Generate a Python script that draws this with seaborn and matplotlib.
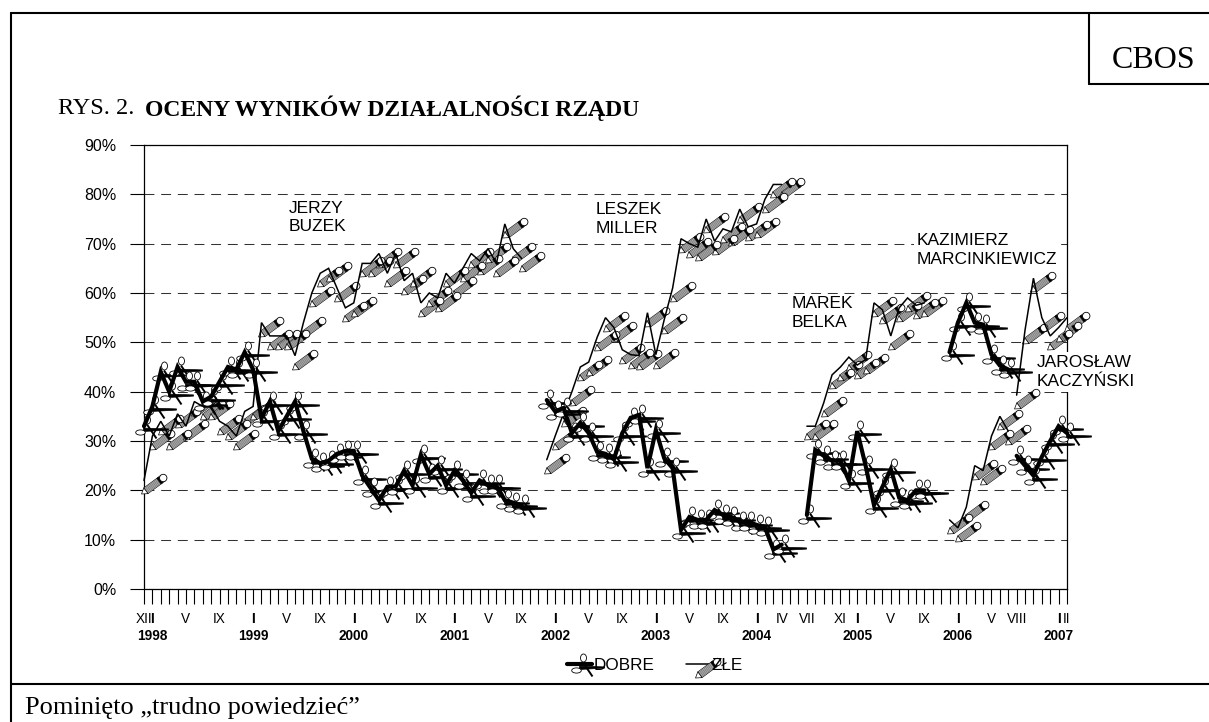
import numpy as np
import pandas as pd
import seaborn as sns
import matplotlib
matplotlib.use("Agg")
import matplotlib.pyplot as plt
from matplotlib.lines import Line2D
from matplotlib.path import Path
from matplotlib.transforms import Affine2D
from matplotlib.legend_handler import HandlerTuple

W, H = 1209, 722

# wartosci, kolejne miesiace kazdego rzadu
rzady = ["Buzek", "Miller", "Belka", "Marcinkiewicz", "Kaczynski"]
poczatki = [0, 48, 79, 96, 104]

dobre_buzek = [33, 37, 44, 40, 45, 42, 42, 38, 39, 42, 45, 44.5, 48, 44.5, 34.6, 38, 32, 35, 38, 32,
               26.4, 25.5, 26, 27.4, 28, 28, 23, 20.5, 18, 20.7, 20.8, 24, 21, 27.2, 23.3, 25, 21, 24,
               22, 19.5, 22, 21, 21, 18, 17.5, 17]
dobre_miller = [38.3, 36, 36.7, 31.6, 33.7, 31.6, 27.8, 27.4, 26.3, 31.6, 34.7, 35.3, 24.5, 32.2, 26.5,
                24.5, 12, 14.6, 14, 14, 16, 15, 14.6, 13.6, 13.6, 13, 12.5, 8, 9]
dobre_belka = [15, 28.2, 27, 26, 26, 22, 32, 25, 17, 20.7, 24.3, 18.5, 18, 20, 20]
dobre_marcinkiewicz = [48, 54, 58, 54, 53.6, 47.5, 45.3, 44.5]
dobre_kaczynski = [27, 25, 23, 26.8, 30, 33, 31.6]

zle_buzek = [22, 31, 34, 31, 35.5, 33, 38, 37, 37, 34, 33, 31, 36, 37, 54, 51.3, 51.3, 51.3, 47.3, 54,
             60, 64, 65, 61, 57, 58, 66, 66, 68, 64, 68, 62.5, 64, 58, 60, 59, 64, 62, 65, 68, 66.5,
             69, 66, 74, 69, 67]
zle_miller = [26.2, 31, 35.6, 40, 45, 46, 51, 55, 53, 48.5, 47.5, 47.3, 56, 47.5, 54.6, 61, 71, 70,
              69.3, 75, 70.5, 73, 72.4, 77, 73.4, 74, 79, 82, 82]
zle_belka = [33, 33, 37.7, 43.4, 45, 47, 45.4, 46.5, 58, 56.6, 51.3, 57, 59, 57.5, 58]
zle_marcinkiewicz = [14, 12.4, 16.6, 25, 24, 31, 35, 32]
zle_kaczynski = [39.3, 52.5, 63, 55, 51.3, 53, 55]

dobre = [dobre_buzek, dobre_miller, dobre_belka, dobre_marcinkiewicz, dobre_kaczynski]
zle = [zle_buzek, zle_miller, zle_belka, zle_marcinkiewicz, zle_kaczynski]

etykiety_poz = [0, 1, 5, 9, 13, 17, 21, 25, 29, 33, 37, 41, 45, 49, 53, 57, 61, 65, 69, 73, 76, 79,
                83, 85, 89, 93, 97, 101, 104, 109, 110]
etykiety = ["XII", "I", "V", "IX", "I", "V", "IX", "I", "V", "IX", "I", "V", "IX", "I", "V", "IX", "I",
            "V", "IX", "I", "IV", "VII", "XI", "I", "V", "IX", "I", "V", "VIII", "I", "II"]
lata = ["1998", "1999", "2000", "2001", "2002", "2003", "2004", "2005", "2006", "2007"]
lata_poz = [1, 13, 25, 37, 49, 61, 73, 85, 97, 109]

rows = []
for nazwa, start, d, z in zip(rzady, poczatki, dobre, zle):
    for i, (a, b) in enumerate(zip(d, z)):
        rows.append({"miesiac": start + i, "rzad": nazwa, "DOBRE": a, "ZLE": b})
df = pd.DataFrame(rows)


def kreski(*odcinki):
    verts, codes = [], []
    for a, b in odcinki:
        verts += [a, b]
        codes += [Path.MOVETO, Path.LINETO]
    return Path(verts, codes)


def elipsa(cx, cy, rx, ry):
    return Path.unit_circle().transformed(Affine2D().scale(rx, ry).translate(cx, cy))


def warstwa(path, face, edge, lw):
    # wspolrzedne sciezki sa w pikselach wzgledem punktu danych
    ms = 0.72 * 2 * np.abs(path.vertices).max()
    return dict(marker=path, markersize=ms, markerfacecolor=face, markeredgecolor=edge, markeredgewidth=lw)


# olowek
d = np.array([0.805, 0.593])
n = np.array([-0.593, 0.805])
o = np.array([-3.0, -13.5])


def p(t, w):
    return tuple(o + d * t + n * w)


def wielokat(*pts):
    return Path(list(pts) + [pts[0]], closed=True)


olowek = [
    warstwa(wielokat(p(5.5, -3.6), p(26.5, -3.6), p(26.5, 3.6), p(5.5, 3.6)), "#b8b8b8", "black", 0.4),
    warstwa(kreski(*[(p(6, w), p(26, w)) for w in (-2.4, -1.2, 0, 1.2, 2.4)]), "none", "#555555", 0.3),
    warstwa(wielokat(p(0, 0), p(5.5, -3.6), p(5.5, 3.6)), "white", "black", 0.5),
    warstwa(wielokat(p(21.5, -3.6), p(24, -3.6), p(24, 3.6), p(21.5, 3.6)), "black", "black", 0.3),
    warstwa(elipsa(*p(27, 0), 3.7, 3.7), "white", "black", 0.6),
]

# nozyczki
nozyczki = [
    warstwa(kreski(((2.5, 2), (12, -12))), "none", "black", 1.4),
    warstwa(wielokat((-1, -1.6), (24, -2.4), (24, -3.6), (-1, -5)), "black", "black", 0.5),
    warstwa(elipsa(3, 6.5, 3, 4), "white", "black", 0.6),
    warstwa(elipsa(-4, -6, 4.8, 2.6), "white", "black", 0.6),
]

sns.set_theme(style="white")
plt.rcParams["font.family"] = ["Liberation Sans", "DejaVu Sans"]

fig = plt.figure(figsize=(W / 100, H / 100), dpi=100, facecolor="white")
ax = fig.add_axes([144 / W, 1 - 589 / H, 923 / W, 444 / H])


def seria(kolumna, warstwy, lw, z):
    for nazwa, g in df.groupby("rzad", sort=False):
        for k, w in enumerate(warstwy):
            ax.plot(g["miesiac"], g[kolumna], ls="none", clip_on=False, zorder=z + k * 0.1, **w)
    sns.lineplot(data=df, x="miesiac", y=kolumna, units="rzad", estimator=None, color="black",
                 linewidth=lw, ax=ax, legend=False, clip_on=False, zorder=z + 1, sort=False,
                 solid_joinstyle="miter")


seria("ZLE", olowek, 1.1, 3)
seria("DOBRE", nozyczki, 3.0, 5)

ax.set_xlim(0, 110)
ax.set_ylim(0, 90)
ax.set_xlabel("")
ax.set_ylabel("")
ax.set_yticks(np.arange(0, 100, 10))
ax.set_yticklabels([f"{v}%" for v in range(0, 100, 10)], fontsize=11.5, color="black")
ax.tick_params(axis="y", length=10, width=0.8, pad=10, color="black", left=True)
ax.set_xticks(np.arange(0, 111))
ax.set_xticklabels([""] * 111)
ax.tick_params(axis="x", length=10.5, width=0.8, pad=0, color="black", bottom=True)
ax.grid(axis="y", color="#333333", linewidth=0.75, linestyle=(0, (9.5, 6.5)))
ax.set_axisbelow(True)
for s in ax.spines.values():
    s.set_visible(True)
    s.set_color("black")
    s.set_linewidth(0.9)

tr = ax.get_xaxis_transform()
for pos, txt in zip(etykiety_poz, etykiety):
    ax.text(pos, -30 / 444, txt, transform=tr, ha="center", va="center", fontsize=9.8,
            fontweight="bold" if txt == "I" else "normal", color="black")
for pos, txt in zip(lata_poz, lata):
    ax.text(pos, -47 / 444, txt, transform=tr, ha="center", va="center", fontsize=9.8,
            fontweight="bold", color="black")

# nazwiska premierow
bbox = dict(facecolor="white", edgecolor="none", pad=2)
for x, y, txt in [(17.2, 75.3, "JERZY\nBUZEK"), (53.8, 75, "LESZEK\nMILLER"), (77.2, 55.9, "MAREK\nBELKA"),
                  (92.1, 68.8, "KAZIMIERZ\nMARCINKIEWICZ"), (106.4, 44, "JAROSŁAW\nKACZYŃSKI")]:
    ax.text(x, y, txt, ha="left", va="center", fontsize=12.5, color="black", linespacing=1.32,
            bbox=bbox, zorder=2.8, clip_on=False)

# legenda
h_dobre = tuple([Line2D([], [], color="black", lw=3.0)] + [Line2D([], [], ls="none", **w) for w in nozyczki])
h_zle = tuple([Line2D([], [], color="black", lw=1.1)] + [Line2D([], [], ls="none", **w) for w in olowek])
ax.legend([h_dobre, h_zle], ["DOBRE", "ZŁE"], handler_map={tuple: HandlerTuple(ndivide=1, pad=0)},
          loc="center", bbox_to_anchor=(655 / W, 1 - 665 / H), bbox_transform=fig.transFigure,
          ncol=2, frameon=False, fontsize=12.3, numpoints=1, handlelength=1.46, handletextpad=0.05,
          columnspacing=1.85, labelcolor="black")

# ramki i napisy strony
szer = 1.5
for x0, y0, x1, y1 in [(11, 13, W, 13), (11, 13, 11, H), (11, 684, W, 684), (1089, 13, 1089, 84), (1089, 84, W, 84)]:
    fig.add_artist(Line2D([x0 / W, x1 / W], [1 - y0 / H, 1 - y1 / H], color="black", lw=szer))

serif = "Liberation Serif"
fig.text(1112 / W, 1 - 60 / H, "CBOS", family=serif, fontsize=23, ha="left", va="center", color="black")
fig.text(58 / W, 1 - 108 / H, "RYS. 2. ", family=serif, fontsize=17.5, ha="left", va="center", color="black")
fig.text(145 / W, 1 - 108 / H, "OCENY WYNIKÓW DZIAŁALNOŚCI RZĄDU", family=serif, fontsize=17,
         fontweight="bold", ha="left", va="center", color="black")
fig.text(25 / W, 1 - 708 / H, "Pominięto „trudno powiedzieć”", family=serif, fontsize=19, ha="left",
         va="center", color="black")

fig.savefig("out.png", dpi=100, facecolor="white")
